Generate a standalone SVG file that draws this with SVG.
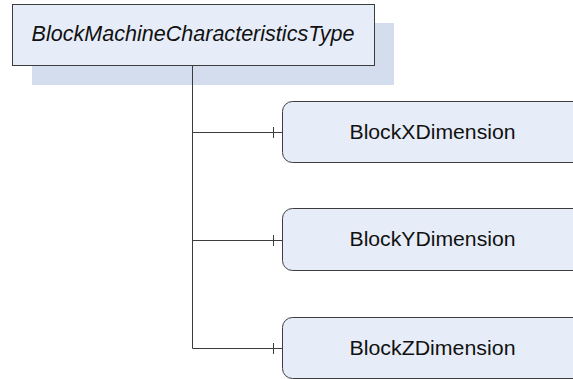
<svg xmlns="http://www.w3.org/2000/svg" width="573" height="379" viewBox="0 0 573 379">
  <style>
    .shadow { fill: #D4DDEE; }
    .box { fill: #E7EDF8; stroke: #3C3C3C; stroke-width: 1; }
    .child { fill: #E7EDF8; stroke: #3C3C3C; stroke-width: 1; }
    .conn { fill: none; stroke: #3C3C3C; stroke-width: 1; }
    .lbl { font-family: "Liberation Sans", Arial, sans-serif; fill: #111; }
    .title { font-size: 21.5px; font-style: italic; }
    .name { font-size: 20.5px; }
  </style>
  <rect width="573" height="379" fill="#FFFFFF"/>

  <g id="BlockMachineCharacteristicsType">
    <rect class="shadow" x="32" y="23" width="362" height="62"/>
    <rect class="box" x="12.5" y="4.5" width="362" height="61"/>
    <text class="lbl title" x="31.5" y="40.5" textLength="323" lengthAdjust="spacingAndGlyphs">BlockMachineCharacteristicsType</text>
  </g>

  <g id="connectors">
    <path class="conn" d="M192.5 65.5 V348.5 H282"/>
    <path class="conn" d="M192.5 132.5 H282"/>
    <path class="conn" d="M192.5 240.5 H282"/>
    <path class="conn" d="M273.5 127 V138 M273.5 235 V246 M273.5 343 V354"/>
  </g>

  <g id="BlockXDimension">
    <rect class="child" x="282.5" y="101.5" width="310" height="61" rx="10" ry="10"/>
    <text class="lbl name" x="349.5" y="138.5" textLength="166" lengthAdjust="spacingAndGlyphs">BlockXDimension</text>
  </g>

  <g id="BlockYDimension">
    <rect class="child" x="282.5" y="208.5" width="310" height="62" rx="10" ry="10"/>
    <text class="lbl name" x="349.5" y="245.5" textLength="166" lengthAdjust="spacingAndGlyphs">BlockYDimension</text>
  </g>

  <g id="BlockZDimension">
    <rect class="child" x="282.5" y="317.5" width="310" height="61" rx="10" ry="10"/>
    <text class="lbl name" x="349.5" y="354.5" textLength="166" lengthAdjust="spacingAndGlyphs">BlockZDimension</text>
  </g>
</svg>
